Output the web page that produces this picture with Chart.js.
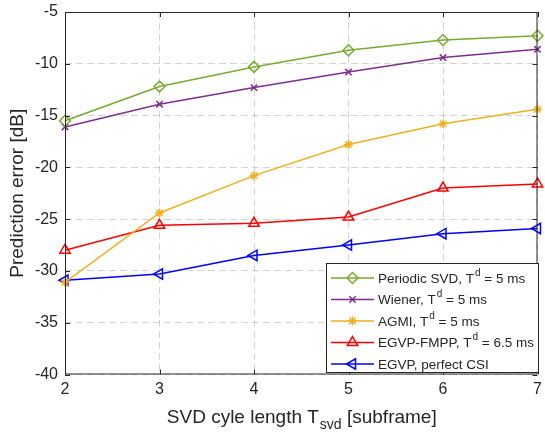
<!DOCTYPE html>
<html lang="en">
<head>
  <meta charset="UTF-8" />
  <title>Prediction error vs SVD cycle length</title>
  <script src="https://cdn.jsdelivr.net/npm/chart.js"></script>
  <style>
    * { margin: 0; padding: 0; box-sizing: border-box; }
    body { background: #fff; width: 545px; height: 434px; overflow: hidden; }
    #wrap { width: 545px; height: 434px; }
  </style>
</head>
<body>
  <div id="wrap"><canvas id="errChart" width="545" height="434"></canvas></div>

  <script>
    // data
    const cycleLen = [2, 3, 4, 5, 6, 7];
    const periodicSvd = [-15.5, -12.2, -10.3, -8.7, -7.7, -7.3];
    const wiener = [-16.1, -13.9, -12.3, -10.8, -9.4, -8.6];
    const agmi = [-31.1, -24.4, -20.8, -17.8, -15.8, -14.4];
    const egvpFmpp = [-28.0, -25.6, -25.4, -24.8, -22.0, -21.6];
    const egvpPerfect = [-30.9, -30.3, -28.5, -27.5, -26.4, -25.9];
    const yTicks = [-5, -10, -15, -20, -25, -30, -35, -40];

    const font = "'Liberation Sans', Arial, sans-serif";
    const ink = '#262626';

    const series = [
      { name: 'Periodic SVD, T', sup: 'd', tail: ' = 5 ms', data: periodicSvd, color: '#77AC30', style: 'rectRot', rot: 0, r: 5.5 },
      { name: 'Wiener, T', sup: 'd', tail: ' = 5 ms', data: wiener, color: '#7E2F8E', style: 'crossRot', rot: 0, r: 4.5 },
      { name: 'AGMI, T', sup: 'd', tail: ' = 5 ms', data: agmi, color: '#EDB120', style: 'star', rot: 0, r: 4.5 },
      { name: 'EGVP-FMPP, T', sup: 'd', tail: ' = 6.5 ms', data: egvpFmpp, color: '#FF0000', style: 'triangle', rot: 0, r: 6 },
      { name: 'EGVP, perfect CSI', sup: '', tail: '', data: egvpPerfect, color: '#0000FF', style: 'triangle', rot: -90, r: 6 }
    ];

    const frame = {
      id: 'frame',
      afterDraw(chart) {
        const { ctx, chartArea: a, scales } = chart;
        ctx.save();
        // box
        ctx.strokeStyle = ink;
        ctx.lineWidth = 1;
        ctx.strokeRect(a.left + 0.5, a.top + 0.5, a.right - a.left - 1, a.bottom - a.top - 1);
        // inward ticks
        ctx.beginPath();
        cycleLen.forEach(v => {
          const x = Math.round(scales.x.getPixelForValue(v)) + 0.5;
          ctx.moveTo(x, a.bottom); ctx.lineTo(x, a.bottom - 5);
          ctx.moveTo(x, a.top); ctx.lineTo(x, a.top + 5);
        });
        yTicks.forEach(v => {
          const y = Math.round(scales.y.getPixelForValue(v)) + 0.5;
          ctx.moveTo(a.left, y); ctx.lineTo(a.left + 5, y);
          ctx.moveTo(a.right, y); ctx.lineTo(a.right - 5, y);
        });
        ctx.stroke();

        // x axis title with subscript
        ctx.fillStyle = ink;
        ctx.textBaseline = 'alphabetic';
        const big = '19px ' + font, small = '14px ' + font;
        const p1 = 'SVD cyle length T', p2 = 'svd', p3 = ' [subframe]';
        ctx.font = big; const w1 = ctx.measureText(p1).width, w3 = ctx.measureText(p3).width;
        ctx.font = small; const w2 = ctx.measureText(p2).width;
        const x0 = (a.left + a.right) / 2 - (w1 + w2 + w3) / 2;
        const yb = 423;
        ctx.textAlign = 'left';
        ctx.font = big; ctx.fillText(p1, x0, yb);
        ctx.font = small; ctx.fillText(p2, x0 + w1 + 1, yb + 6);
        ctx.font = big; ctx.fillText(p3, x0 + w1 + w2 + 1, yb);

        // legend
        const lx = 326.5, ly = 263.5, lw = 212, lh = 109;
        ctx.fillStyle = '#fff';
        ctx.fillRect(lx, ly, lw, lh);
        ctx.strokeStyle = ink;
        ctx.lineWidth = 1;
        ctx.strokeRect(lx, ly, lw, lh);
        series.forEach((s, i) => {
          const y = 278 + i * 21.5;
          ctx.strokeStyle = s.color;
          ctx.lineWidth = 1.5;
          ctx.beginPath(); ctx.moveTo(331, y); ctx.lineTo(374, y); ctx.stroke();
          ctx.fillStyle = 'rgba(0,0,0,0)';
          Chart.helpers.drawPoint(ctx, { pointStyle: s.style, rotation: s.rot, radius: s.r, borderWidth: 1.5 }, 352.5, y);
          ctx.fillStyle = ink;
          ctx.font = '13.5px ' + font;
          ctx.textBaseline = 'middle';
          const tx = 378;
          ctx.fillText(s.name, tx, y + 1);
          let w = ctx.measureText(s.name).width;
          if (s.sup) {
            ctx.font = '10px ' + font;
            ctx.fillText(s.sup, tx + w + 1, y - 5);
            w += ctx.measureText(s.sup).width + 1;
            ctx.font = '13.5px ' + font;
            ctx.fillText(s.tail, tx + w, y + 1);
          }
        });
        ctx.restore();
      }
    };

    new Chart(document.getElementById('errChart'), {
      type: 'line',
      data: {
        datasets: series.map(s => ({
          label: s.name + s.sup + s.tail,
          data: cycleLen.map((x, i) => ({ x, y: s.data[i] })),
          borderColor: s.color,
          backgroundColor: 'rgba(0,0,0,0)',
          borderWidth: 1.5,
          pointStyle: s.style,
          pointRotation: s.rot,
          pointRadius: s.r,
          pointBorderWidth: 1.5,
          pointBorderColor: s.color,
          pointBackgroundColor: 'rgba(0,0,0,0)',
          tension: 0,
          clip: false
        }))
      },
      options: {
        responsive: false,
        animation: false,
        layout: { padding: { top: 12, right: 2, left: 0, bottom: 0 } },
        plugins: { legend: { display: false }, tooltip: { enabled: false } },
        scales: {
          x: {
            type: 'linear', min: 2, max: 7,
            afterFit(scale) { scale.height = 59.5; scale.paddingLeft = 0; scale.paddingRight = 0; },
            ticks: { stepSize: 1, color: ink, font: { family: font, size: 16 }, padding: 5, maxRotation: 0 },
            grid: { color: 'rgba(0,0,0,0.17)', drawTicks: false, lineWidth: 1 },
            border: { display: false, dash: [7, 4] }
          },
          y: {
            min: -40, max: -5,
            afterFit(scale) { scale.width = 65; scale.paddingTop = 0; scale.paddingBottom = 0; },
            ticks: { stepSize: 5, color: ink, font: { family: font, size: 16 }, padding: 7 },
            grid: { color: 'rgba(0,0,0,0.17)', drawTicks: false, lineWidth: 1 },
            border: { display: false, dash: [7, 4] },
            title: { display: true, text: 'Prediction error [dB]', color: ink, font: { family: font, size: 19 }, padding: { top: 6, bottom: 0 } }
          }
        }
      },
      plugins: [frame]
    });
  </script>
</body>
</html>
